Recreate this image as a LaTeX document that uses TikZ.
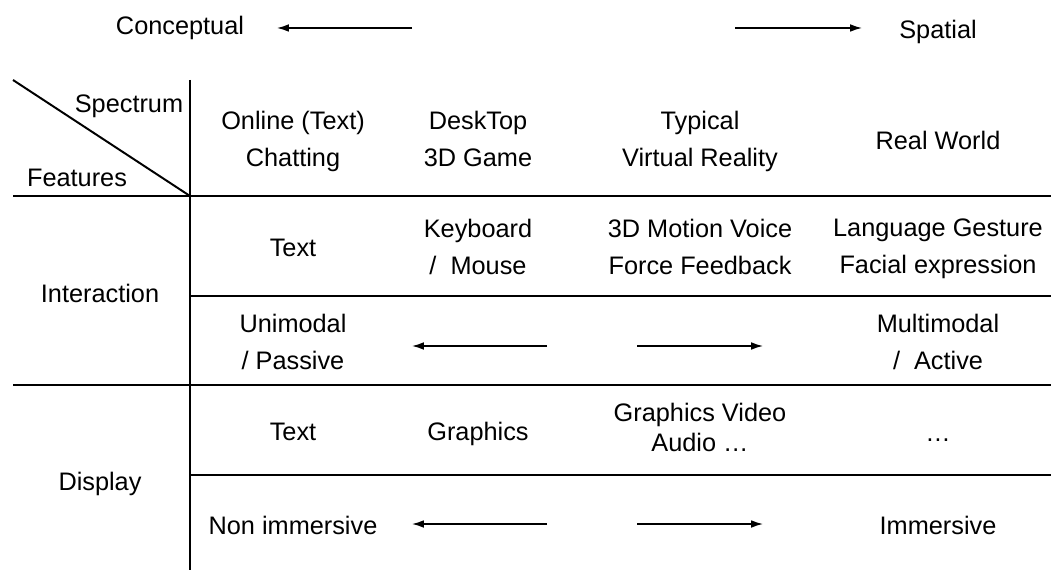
\documentclass[tikz,border=0pt]{standalone}
\usepackage{fontspec}
\setmainfont{Liberation Sans}
\usetikzlibrary{arrows.meta}

\begin{document}
\begin{tikzpicture}[
    x=0.025cm, y=-0.025cm,
    every node/.style={align=center, inner sep=0pt, font=\fontsize{18}{26.3}\selectfont,
        execute at begin node=\strut, execute at end node=\strut},
    tight/.style={font=\fontsize{18}{21.3}\selectfont},
    rule/.style={line width=1.4pt},
    arrow/.style={-{Latex[length=8.5pt,width=5.5pt]}, line width=1pt}
]
\useasboundingbox (0,0) rectangle (1051,570);

% axis of the spectrum
\node (conc) at (180,27) {Conceptual};
\node (spat) at (938,31) {Spatial};
\coordinate (conc-a) at (412,28);
\coordinate (conc-b) at (277,28);
\coordinate (spat-a) at (735,28);
\coordinate (spat-b) at (862,28);
\draw[arrow] (conc-a) -- (conc-b);
\draw[arrow] (spat-a) -- (spat-b);

% table frame
\draw[rule] (13,80) -- (190,196);
\draw[rule] (190,80) -- (190,570);
\draw[rule] (13,196) -- (1051,196);
\draw[rule] (190,296) -- (1051,296);
\draw[rule] (13,385) -- (1051,385);
\draw[rule] (190,475) -- (1051,475);

% header row
\node (spec) at (129,105) {Spectrum};
\node (feat) at (77,179) {Features};
\node (online) at (293,144) {Online (Text)\\Chatting};
\node (desk) at (478,144) {DeskTop\\3D Game};
\node (typvr) at (700,144) {Typical\\Virtual Reality};
\node (realw) at (938,142) {Real World};

% interaction rows
\node (inter) at (100,295) {Interaction};
\node (itext) at (293,249) {Text};
\node (keyb) at (478,252) {Keyboard\\/\ \ Mouse};
\node (motion) at (700,252) {3D Motion Voice\\Force Feedback};
\node (lang) at (938,252) {Language Gesture\\Facial expression};
\node (unim) at (293,347) {Unimodal\\/ Passive};
\node (multim) at (938,347) {Multimodal\\/\ \ Active};
\coordinate (ia-a) at (547,346);
\coordinate (ia-b) at (412,346);
\coordinate (ib-a) at (637,346);
\coordinate (ib-b) at (763,346);
\draw[arrow] (ia-a) -- (ia-b);
\draw[arrow] (ib-a) -- (ib-b);

% display rows
\node (disp) at (100,483) {Display};
\node (dtext) at (293,433) {Text};
\node (graph) at (478,433) {Graphics};
\node[tight] (gva) at (700,432) {Graphics Video\\Audio \dots};
\node (dots) at (938,434) {\dots};
\node (nonim) at (293,527) {Non immersive};
\node (immer) at (938,527) {Immersive};
\coordinate (da-a) at (547,524);
\coordinate (da-b) at (412,524);
\coordinate (db-a) at (637,524);
\coordinate (db-b) at (763,524);
\draw[arrow] (da-a) -- (da-b);
\draw[arrow] (db-a) -- (db-b);
\end{tikzpicture}
\end{document}
